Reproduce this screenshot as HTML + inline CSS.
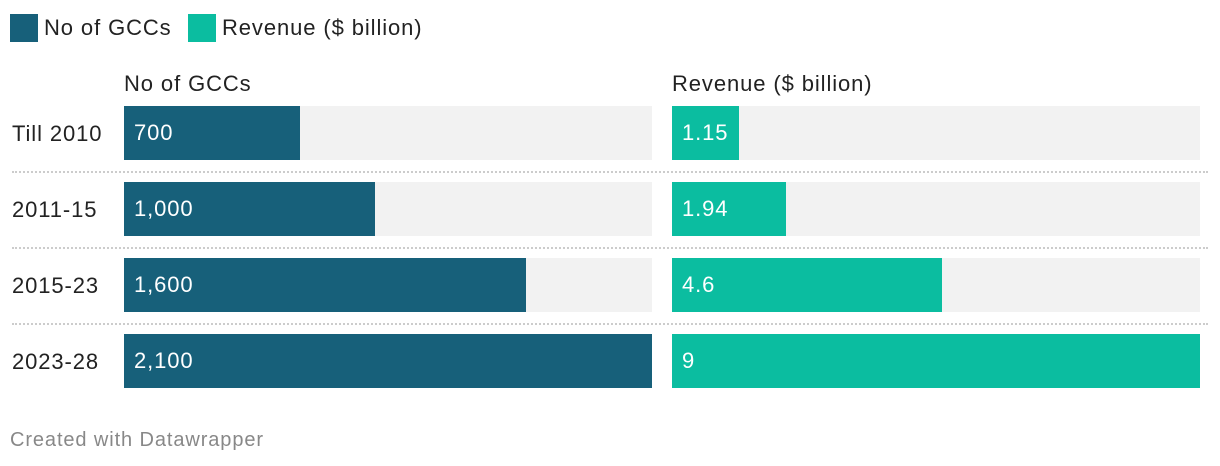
<!DOCTYPE html>
<html><head><meta charset="utf-8"><style>
body{margin:0;width:1220px;height:466px;background:#fff;font-family:"Liberation Sans",sans-serif;overflow:hidden;position:relative;letter-spacing:0.9px}
.a{position:absolute}
</style></head><body>
<div class="a" style="left:10px;top:12px;height:30px;font-size:22px;color:#222">
 <span class="a" style="left:0;top:2px;width:28px;height:28px;background:#17607a"></span>
 <span class="a" style="left:34px;top:3px;white-space:nowrap">No of GCCs</span>
 <span class="a" style="left:178px;top:2px;width:28px;height:28px;background:#0bbda0"></span>
 <span class="a" style="left:212px;top:3px;white-space:nowrap">Revenue ($ billion)</span>
</div>
<div class="a" style="left:124px;top:71px;font-size:22px;color:#222">No of GCCs</div>
<div class="a" style="left:672px;top:71px;font-size:22px;color:#222">Revenue ($ billion)</div>
<div id="chart"></div>
<div class="a" style="left:10px;top:429px;font-size:20px;color:#888">Created with Datawrapper</div>
<script>
const categories=["Till 2010","2011-15","2015-23","2023-28"];
const gccs=[700,1000,1600,2100];
const gccLabels=["700","1,000","1,600","2,100"];
const revenue=[1.15,1.94,4.6,9];
const revLabels=["1.15","1.94","4.6","9"];
const W=528,T0=106,STEP=76,H=54;
const gMax=2100,rMax=9;
const xg=v=>v/gMax*W, xr=v=>v/rMax*W;
const c=document.getElementById('chart');
function div(style,text){const d=document.createElement('div');d.className='a';d.style.cssText=style;if(text!==undefined)d.textContent=text;c.appendChild(d);return d;}
categories.forEach((cat,i)=>{
 const y=T0+i*STEP;
 const l=div(`left:12px;top:${y+15}px;font-size:22px;color:#222;white-space:nowrap`,cat);
 
 
 if(i<categories.length-1){const s=div(`left:12px;top:${y+65}px;width:1196px;border-top:2px dotted #ccc`);
 
 }
 [[124,xg(gccs[i]),'#17607a',gccLabels[i],'gccs'],[672,xr(revenue[i]),'#0bbda0',revLabels[i],'revenue']].forEach(p=>{
  const bg=div(`left:${p[0]}px;top:${y}px;width:${W}px;height:${H}px;background:#f2f2f2`);
  
  
  const b=div(`left:${p[0]}px;top:${y}px;width:${p[1]}px;height:${H}px;background:${p[2]}`);
  
  
  const t=div(`left:${p[0]+10}px;top:${y+14}px;font-size:22px;color:#fff;white-space:nowrap`,p[3]);
  
  
 });
});
</script>
</body></html>
